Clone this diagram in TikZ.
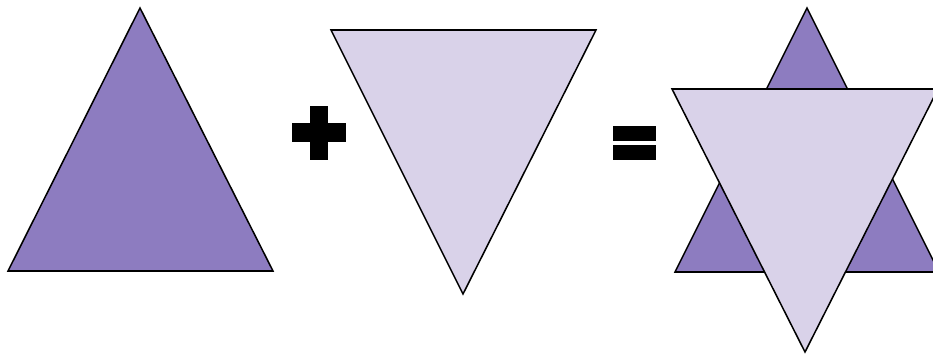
\documentclass[tikz,border=0pt]{standalone}
\usepackage{xcolor}
\usepackage{tikz}
\definecolor{darkviolet}{RGB}{141,124,192}
\definecolor{paleviolet}{RGB}{217,210,233}

\begin{document}
\begin{tikzpicture}[
    x=0.03cm, y=-0.03cm,
    updark/.style={draw=black, fill=darkviolet, line width=1.3pt, line join=miter},
    downpale/.style={draw=black, fill=paleviolet, line width=1.3pt, line join=miter},
    sign/.style={fill=black}]
\useasboundingbox (0,0) rectangle (933,356);
% upward triangle
\coordinate (a1) at (140,8);
\coordinate (a2) at (8,271);
\coordinate (a3) at (273,271);
\draw[updark] (a1) -- (a2) -- (a3) -- cycle;
% plus
\fill[sign] (310,106) rectangle (328,160);
\fill[sign] (292,123) rectangle (346,142);
% downward triangle
\coordinate (b1) at (331,30);
\coordinate (b2) at (596,30);
\coordinate (b3) at (463,294);
\draw[downpale] (b1) -- (b2) -- (b3) -- cycle;
% equals
\fill[sign] (613,126) rectangle (656,141);
\fill[sign] (613,145) rectangle (656,160);
% star
\coordinate (c1) at (807,8);
\coordinate (c2) at (675,272);
\coordinate (c3) at (939,272);
\draw[updark] (c1) -- (c2) -- (c3) -- cycle;
\coordinate (d1) at (672,89);
\coordinate (d2) at (938,89);
\coordinate (d3) at (805,352);
\draw[downpale] (d1) -- (d2) -- (d3) -- cycle;
\end{tikzpicture}
\end{document}
